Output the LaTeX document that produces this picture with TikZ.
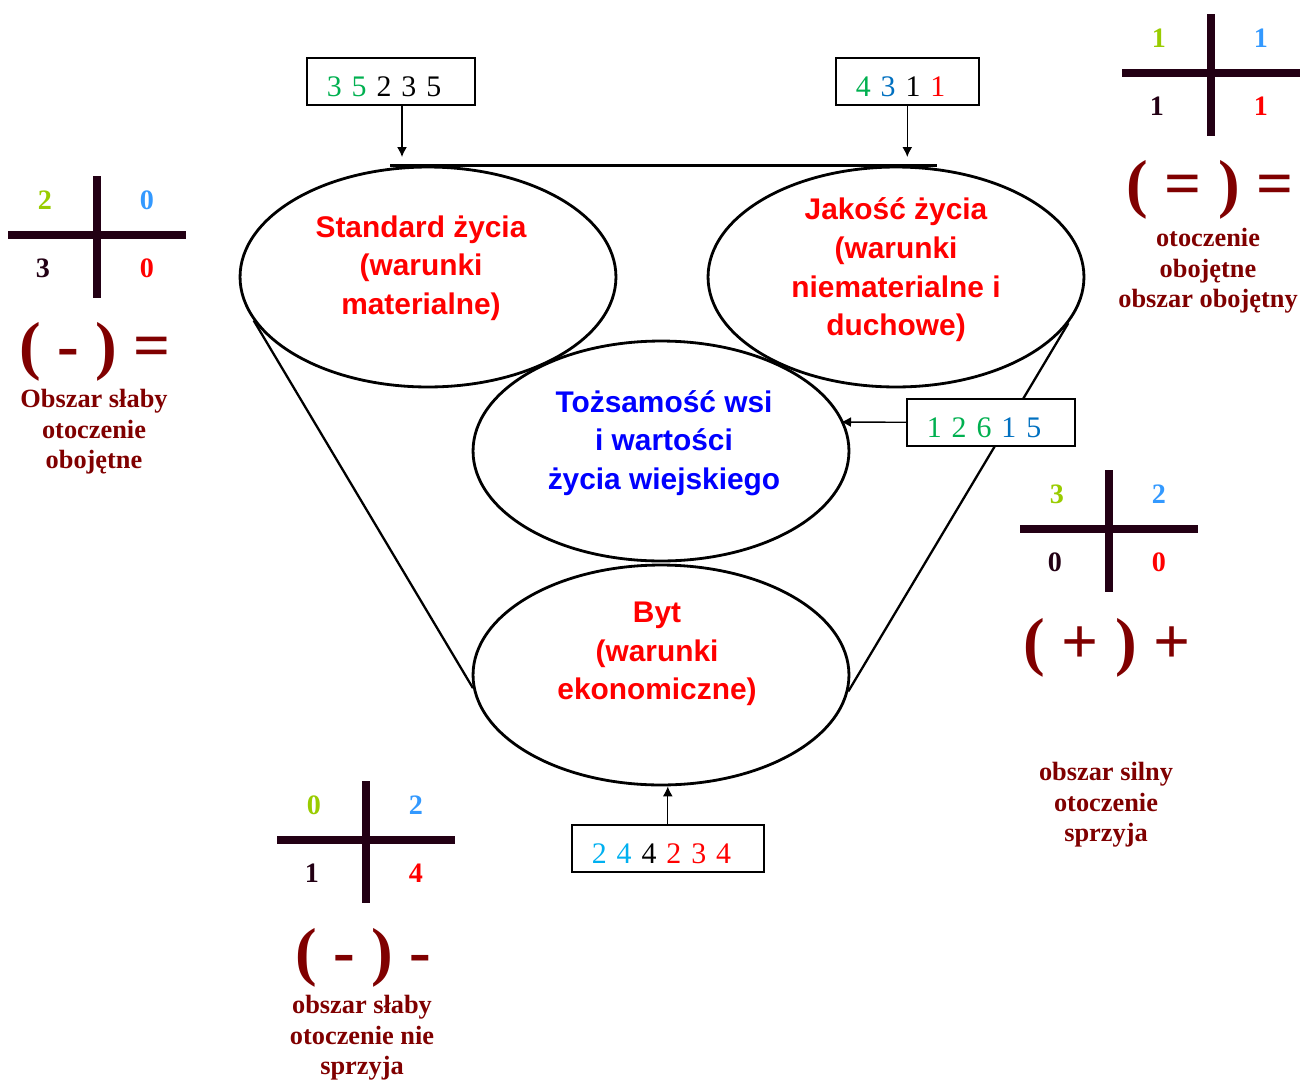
\documentclass[tikz,border=0pt]{standalone}
\usepackage{fontspec}
\setmainfont{Liberation Serif}
\setsansfont{Liberation Sans}
\usepackage{tikz}
\usetikzlibrary{shapes.geometric, arrows.meta, positioning}
\definecolor{ciemny}{RGB}{35,0,20}
\definecolor{bordo}{RGB}{128,0,0}
\definecolor{oliwka}{RGB}{153,204,0}
\definecolor{niebo}{RGB}{51,153,255}
\definecolor{ziel}{RGB}{0,176,80}
\definecolor{nieb}{RGB}{0,112,192}
\definecolor{jnieb}{RGB}{0,176,240}
\tikzset{
  Arrow1/.style = {
    draw, line width = 0.8pt,
    -{Latex[length = 2mm, width = 2mm]},
  },
  Elipsa/.style = {ellipse, draw, line width = 1.6pt,
    minimum width = 7.52cm, minimum height = 4.4cm},
  Napis/.style = {align = center,
    font = \sffamily\bfseries\fontsize{17}{22}\selectfont},
  Ramka/.style = {draw, fill = white, line width = 0.9pt,
    anchor = north west, align = left, minimum height = 0.94cm,
    inner xsep = 0.4cm, text height = 0.6cm, text depth = 0pt,
    font = \fontsize{17}{20}\selectfont},
  Cyfra/.style = {font = \bfseries\fontsize{16}{18}\selectfont},
  Znak/.style = {text = bordo, font = \bfseries\fontsize{37}{40}\selectfont},
  Opis/.style = {text = bordo, align = center,
    font = \bfseries\fontsize{15}{17.3}\selectfont},
  pics/krzyz/.style n args = {4}{code = {
    \draw[line width = 5pt, ciemny] (-89,0) -- (89,0) (0,-59) -- (0,63);
    \node[Cyfra, text = oliwka] (-a) at (-52,-35) {#1};
    \node[Cyfra, text = niebo] (-b) at (50,-35) {#2};
    \node[Cyfra, text = ciemny] (-c) at (-54,33) {#3};
    \node[Cyfra, text = red] (-d) at (50,33) {#4};
  }}
}

\begin{document}
\begin{tikzpicture}[x = 0.02cm, y = -0.02cm]
  \useasboundingbox (0,0) rectangle (1301,1082);
  % elipsy
  \node[Elipsa] (std) at (428,277) {};
  \node[Elipsa] (jak) at (896,277) {};
  \node[Elipsa] (toz) at (661,451) {};
  \node[Elipsa] (byt) at (661,675) {};
  \node[Napis, text = red] (std-t) at (421,268) {Standard życia\\(warunki\\materialne)};
  \node[Napis, text = red] (jak-t) at (896,270) {Jakość życia\\(warunki\\niematerialne i\\duchowe)};
  \node[Napis, text = blue] (toz-t) at (664,443) {Tożsamość wsi\\i wartości\\życia wiejskiego};
  \node[Napis, text = red] (byt-t) at (657,654) {Byt\\(warunki\\ekonomiczne)};
  % lejek
  \draw[line width = 1.3pt] ([xshift = -0.76cm]std.north) -- ([xshift = 0.82cm]jak.north);
  \draw[line width = 1.3pt] (std.194.6) -- (byt.184.6);
  \draw[line width = 1.3pt] (jak.345.3) -- (byt.355.4);
  % ramki z liczbami
  \node[Ramka, text width = 2.56cm] (box1) at (306,57) {{\color{ziel}3 5} 2 3 5};
  \node[Ramka, text width = 2.06cm] (box2) at (835,57) {{\color{ziel}4} {\color{nieb}3} 1 {\color{red}1}};
  \node[Ramka, text width = 2.56cm] (box3) at (906,398) {{\color{ziel}1 2 6} {\color{nieb}1 5}};
  \node[Ramka, text width = 3.04cm] (box4) at (571,824) {{\color{jnieb}2 4} 4 {\color{red}2 3 4}};
  \coordinate (c1) at (402,157);
  \coordinate (c3) at (841,422);
  \draw[Arrow1] (c1 |- box1.south) -- (c1);
  \draw[Arrow1] (box2.south) -- (box2.south |- c1);
  \draw[Arrow1] (box3.west) -- (c3);
  \draw[Arrow1] (box4.north) -- (box4.north |- byt.south);
  % krzyze
  \pic (k1) at (97,235) {krzyz={2}{0}{3}{0}};
  \pic (k2) at (1211,73) {krzyz={1}{1}{1}{1}};
  \pic (k3) at (1109,529) {krzyz={3}{2}{0}{0}};
  \pic (k4) at (366,840) {krzyz={0}{2}{1}{4}};
  \node[Znak] (z1) at (95,352) {( - ) =};
  \node[Znak] (z2) at (1210,190) {( = ) =};
  \node[Znak] (z3) at (1107,648) {( + ) +};
  \node[Znak] (z4) at (363,958) {( - ) -};
  \node[Opis] (o1) at (94,432) {Obszar słaby\\otoczenie\\obojętne};
  \node[Opis] (o2) at (1208,271) {otoczenie\\obojętne\\obszar obojętny};
  \node[Opis] (o3) at (1106,805) {obszar silny\\otoczenie\\sprzyja};
  \node[Opis] (o4) at (362,1038) {obszar słaby\\otoczenie nie\\sprzyja};
\end{tikzpicture}
\end{document}
